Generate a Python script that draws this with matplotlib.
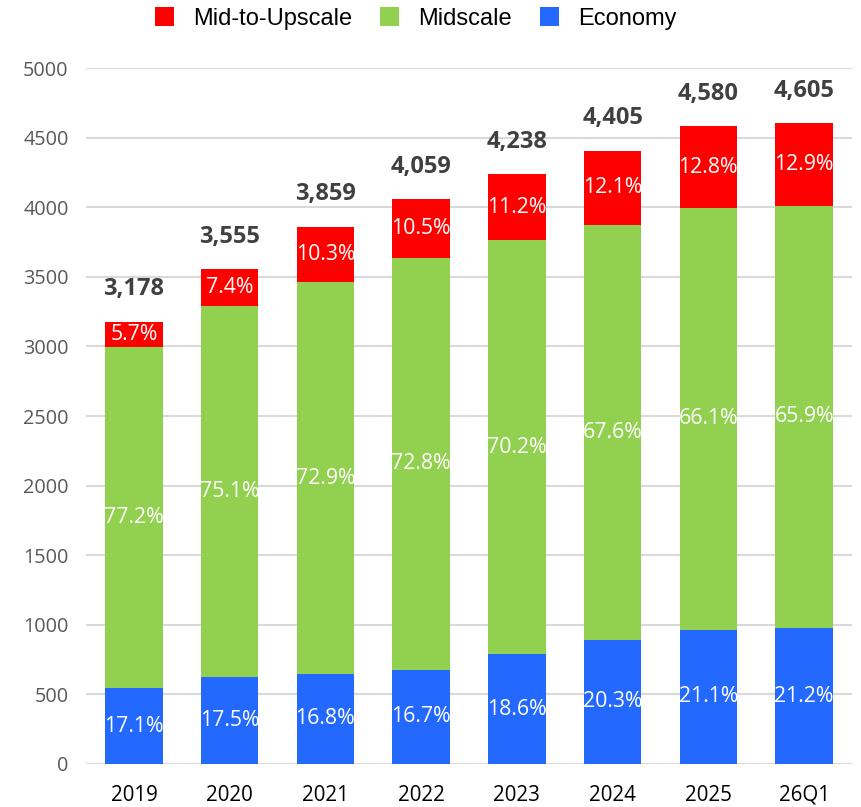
import matplotlib
matplotlib.use("Agg")
import numpy as np
from matplotlib import pyplot as plt

years = ['2019', '2020', '2021', '2022', '2023', '2024', '2025', '26Q1']
economy = [543, 622, 648, 678, 788, 894, 966, 976]
midscale = [2453, 2670, 2813, 2955, 2975, 2978, 3027, 3035]
upscale = [182, 263, 398, 426, 475, 533, 587, 594]
totals = ['3,178', '3,555', '3,859', '4,059', '4,238', '4,405', '4,580', '4,605']
economy_pct = ['17.1%', '17.5%', '16.8%', '16.7%', '18.6%', '20.3%', '21.1%', '21.2%']
midscale_pct = ['77.2%', '75.1%', '72.9%', '72.8%', '70.2%', '67.6%', '66.1%', '65.9%']
upscale_pct = ['5.7%', '7.4%', '10.3%', '10.5%', '11.2%', '12.1%', '12.8%', '12.9%']

RED = '#FF0000'
GREEN = '#92D050'
BLUE = '#2369FF'

plt.rcParams['font.family'] = ['Open Sans', 'DejaVu Sans']

fig = plt.figure(figsize=(8.61, 8.07), dpi=100)
ax = fig.add_axes([0.100, 0.0533, 0.8895, 0.8624])

x = np.arange(len(years))
econ = np.array(economy)
mid = np.array(midscale)
up = np.array(upscale)

b_econ = ax.bar(x, econ, width=0.6, color=BLUE, label='Economy', zorder=3)
b_mid = ax.bar(x, mid, width=0.6, bottom=econ, color=GREEN, label='Midscale', zorder=3)
b_up = ax.bar(x, up, width=0.6, bottom=econ + mid, color=RED, label='Mid-to-Upscale', zorder=3)

for bars, labels in ((b_econ, economy_pct), (b_mid, midscale_pct), (b_up, upscale_pct)):
    ax.bar_label(bars, labels=labels, label_type='center', color='white',
                 fontsize=15.3, zorder=4)

for xi, top, txt in zip(x, econ + mid + up, totals):
    ax.annotate(txt, (xi, top), xytext=(0, 19), textcoords='offset points',
                ha='center', va='baseline', fontsize=17, fontweight='bold',
                color='#404040')

ax.set_xlim(-0.5, len(years) - 0.5)
ax.set_ylim(0, 5000)
ax.set_yticks(range(0, 5001, 500))
ax.set_xticks(x)
ax.set_xticklabels(years)
ax.yaxis.grid(True, color='#D9D9D9', linewidth=1.5, zorder=0)
ax.set_axisbelow(True)
for s in ax.spines.values():
    s.set_visible(False)
ax.tick_params(axis='both', length=0)
ax.tick_params(axis='y', labelsize=14.3, labelcolor='#595959', pad=12.5)
ax.tick_params(axis='x', labelsize=14.8, labelcolor='black', pad=15)

handles = [b_up, b_mid, b_econ]
fig.legend(handles, [h.get_label() for h in handles], loc='center',
           bbox_to_anchor=(0.4826, 0.977), ncol=3, frameon=False,
           prop={'family': ['Liberation Sans', 'DejaVu Sans'], 'size': 17},
           handlelength=0.8, handleheight=0.8, handletextpad=0.8,
           columnspacing=1.2)

fig.savefig('out.png', dpi=100)
